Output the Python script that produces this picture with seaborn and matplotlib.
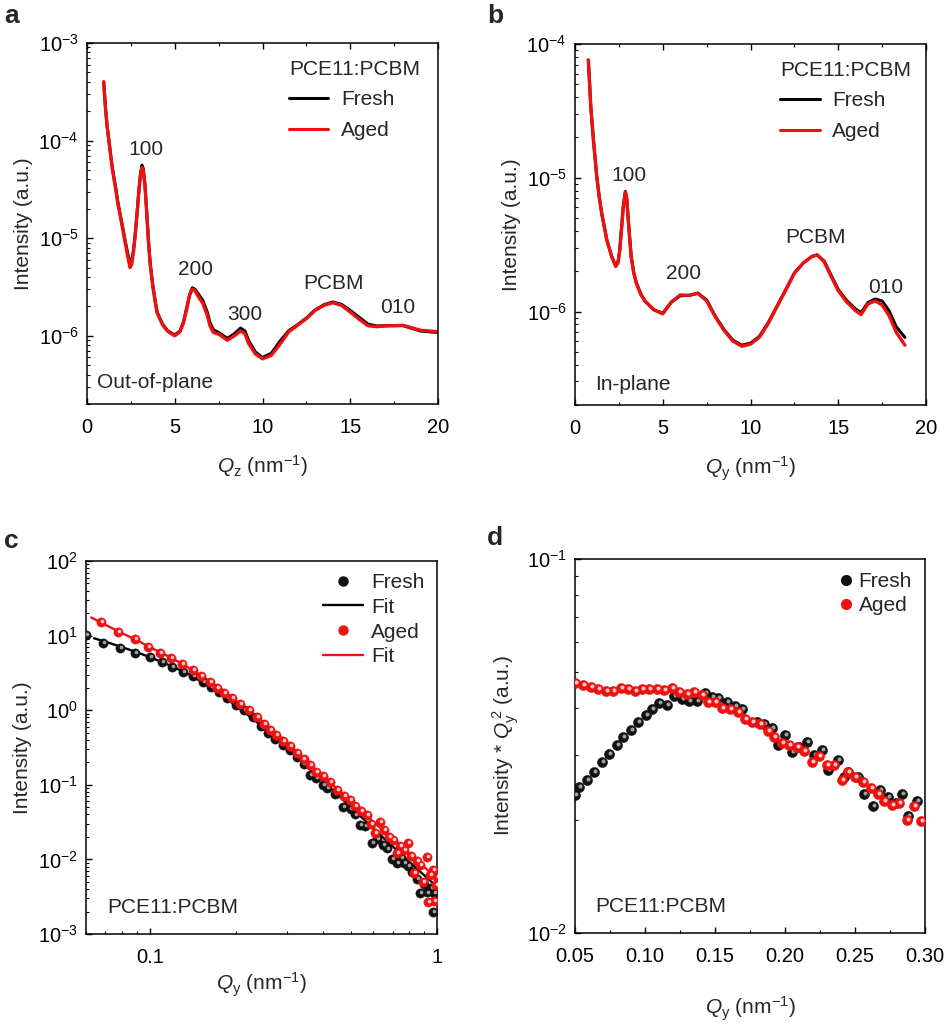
"""
GIWAXS / GISAXS comparison of fresh and aged PCE11:PCBM films
(a) out-of-plane line cut, (b) in-plane line cut,
(c) in-plane GISAXS profile with fits, (d) Kratky-type plot.
"""

import numpy as np
import pandas as pd
import matplotlib
matplotlib.use("Agg")
import matplotlib.pyplot as plt
import matplotlib.ticker as mticker
from matplotlib.lines import Line2D
from matplotlib.transforms import ScaledTranslation
import seaborn as sns

# ─────────────────────────────────────────────
# DATA
# ─────────────────────────────────────────────
# (a) out-of-plane
qz_a = [0.95, 1.05, 1.14, 1.25, 1.33, 1.45, 1.61, 1.75, 1.90, 2.05,
        2.18, 2.32, 2.45, 2.55, 2.65, 2.75, 2.85, 2.95, 3.05, 3.13,
        3.2, 3.3, 3.4, 3.5, 3.6, 3.75, 3.9, 4.0, 4.3, 4.6,
        5.0, 5.3, 5.5, 5.7, 5.85, 6.0, 6.15, 6.3, 6.6, 6.85,
        7.0, 7.2, 7.5, 8.0, 8.4, 8.75, 9.0, 9.2, 9.6, 10.0,
        10.5, 11.0, 11.5, 12.0, 12.5, 13.0, 13.5, 14.0, 14.5, 15.0,
        15.5, 16.0, 16.5, 17.0, 18.0, 19.0, 20.0]
fresh_a = [4.0e-4, 2.2e-4, 1.45e-4, 1.0e-4, 7.6e-5, 5.2e-5, 3.5e-5, 2.4e-5, 1.72e-5, 1.25e-5,
           9.3e-6, 7.0e-6, 5.6e-6, 5.9e-6, 7.6e-6, 1.12e-5, 1.8e-5, 3.0e-5, 4.6e-5, 5.6e-5,
           5.2e-5, 3.6e-5, 1.9e-5, 9.5e-6, 5.6e-6, 3.3e-6, 2.2e-6, 1.74e-6, 1.32e-6, 1.12e-6,
           1.02e-6, 1.12e-6, 1.4e-6, 2.0e-6, 2.65e-6, 3.1e-6, 3.0e-6, 2.75e-6, 2.3e-6, 1.75e-6,
           1.38e-6, 1.15e-6, 1.08e-6, 0.94e-6, 1.05e-6, 1.2e-6, 1.12e-6, 9.0e-7, 6.8e-7, 6.0e-7,
           6.6e-7, 8.8e-7, 1.13e-6, 1.30e-6, 1.52e-6, 1.84e-6, 2.08e-6, 2.22e-6, 2.10e-6, 1.82e-6,
           1.55e-6, 1.32e-6, 1.26e-6, 1.27e-6, 1.27e-6, 1.12e-6, 1.08e-6]
aged_a = [4.0e-4, 2.2e-4, 1.42e-4, 9.8e-5, 7.5e-5, 5.0e-5, 3.4e-5, 2.3e-5, 1.67e-5, 1.2e-5,
          8.9e-6, 6.5e-6, 5.0e-6, 5.4e-6, 7.2e-6, 1.08e-5, 1.75e-5, 2.9e-5, 4.5e-5, 5.3e-5,
          5.0e-5, 3.5e-5, 1.85e-5, 9.2e-6, 5.4e-6, 3.2e-6, 2.15e-6, 1.71e-6, 1.30e-6, 1.11e-6,
          1.0e-6, 1.1e-6, 1.36e-6, 1.95e-6, 2.6e-6, 3.0e-6, 2.9e-6, 2.6e-6, 2.15e-6, 1.62e-6,
          1.28e-6, 1.08e-6, 1.04e-6, 0.90e-6, 1.0e-6, 1.12e-6, 1.05e-6, 8.4e-7, 6.5e-7, 5.8e-7,
          6.3e-7, 8.2e-7, 1.10e-6, 1.28e-6, 1.50e-6, 1.82e-6, 2.05e-6, 2.18e-6, 2.05e-6, 1.75e-6,
          1.48e-6, 1.27e-6, 1.24e-6, 1.26e-6, 1.28e-6, 1.14e-6, 1.10e-6]

# (b) in-plane
qy_b = [0.76, 0.9, 1.05, 1.24, 1.38, 1.52, 1.81, 2.09, 2.32, 2.45,
        2.55, 2.65, 2.75, 2.87, 2.95, 3.05, 3.2, 3.35, 3.5, 3.75,
        4.0, 4.5, 5.0, 5.5, 6.0, 6.5, 7.0, 7.5, 8.0, 8.5,
        9.0, 9.5, 10.0, 10.5, 11.0, 11.5, 12.0, 12.5, 13.0, 13.5,
        13.8, 14.2, 14.6, 15.0, 15.5, 16.0, 16.3, 16.7, 17.1, 17.5,
        17.9, 18.3, 18.8]
fresh_b = [7.6e-5, 3.4e-5, 1.92e-5, 1.02e-5, 7.2e-6, 5.45e-6, 3.44e-6, 2.58e-6, 2.2e-6, 2.35e-6,
           2.9e-6, 4.2e-6, 6.1e-6, 7.9e-6, 7.0e-6, 4.6e-6, 2.6e-6, 1.95e-6, 1.63e-6, 1.35e-6,
           1.19e-6, 1.03e-6, 9.7e-7, 1.18e-6, 1.31e-6, 1.32e-6, 1.37e-6, 1.22e-6, 9.2e-7, 7.3e-7,
           6.1e-7, 5.6e-7, 5.8e-7, 6.5e-7, 8.2e-7, 1.09e-6, 1.45e-6, 1.94e-6, 2.30e-6, 2.58e-6,
           2.65e-6, 2.38e-6, 1.86e-6, 1.46e-6, 1.20e-6, 1.04e-6, 9.8e-7, 1.17e-6, 1.24e-6, 1.20e-6,
           1.01e-6, 7.7e-7, 6.4e-7]
aged_b = [7.6e-5, 3.4e-5, 1.92e-5, 1.02e-5, 7.2e-6, 5.45e-6, 3.44e-6, 2.58e-6, 2.17e-6, 2.3e-6,
          2.85e-6, 4.1e-6, 6.0e-6, 7.8e-6, 6.9e-6, 4.5e-6, 2.55e-6, 1.93e-6, 1.62e-6, 1.34e-6,
          1.19e-6, 1.03e-6, 9.6e-7, 1.18e-6, 1.33e-6, 1.32e-6, 1.37e-6, 1.20e-6, 9.1e-7, 7.2e-7,
          6.0e-7, 5.5e-7, 5.7e-7, 6.4e-7, 8.1e-7, 1.08e-6, 1.44e-6, 1.93e-6, 2.30e-6, 2.58e-6,
          2.65e-6, 2.35e-6, 1.82e-6, 1.43e-6, 1.17e-6, 1.01e-6, 9.5e-7, 1.14e-6, 1.20e-6, 1.12e-6,
          9.3e-7, 7.0e-7, 5.6e-7]

# (c) GISAXS profiles
q_fresh_c = [0.060, 0.069, 0.079, 0.089, 0.100, 0.110, 0.120, 0.131, 0.142, 0.153,
             0.164, 0.174, 0.186, 0.199, 0.213, 0.228, 0.243, 0.258, 0.273, 0.290,
             0.307, 0.325, 0.343, 0.361, 0.380, 0.400, 0.413, 0.440, 0.472, 0.500,
             0.520, 0.539, 0.560, 0.592, 0.620, 0.650, 0.670, 0.695, 0.724, 0.750,
             0.770, 0.795, 0.820, 0.850, 0.873, 0.900, 0.920, 0.950, 0.965, 0.980, 1.000]
fresh_c = [10.2, 8.05, 6.8, 5.8, 5.1, 4.47, 3.85, 3.3, 2.88, 2.42,
           2.07, 1.73, 1.44, 1.17, 1.0, 0.82, 0.62, 0.49, 0.41, 0.34,
           0.29, 0.235, 0.19, 0.135, 0.125, 0.10, 0.0897, 0.075, 0.0508, 0.047,
           0.040, 0.0289, 0.028, 0.0164, 0.019, 0.0155, 0.014, 0.0100, 0.0090, 0.0105,
           0.0090, 0.0082, 0.0068, 0.0055, 0.0035, 0.0047, 0.0036, 0.0042, 0.0020, 0.0035, 0.0040]
q_aged_c = [0.0675, 0.0778, 0.0889, 0.099, 0.109, 0.119, 0.130, 0.141, 0.151, 0.162,
            0.172, 0.182, 0.194, 0.207, 0.222, 0.237, 0.250, 0.262, 0.275, 0.290,
            0.307, 0.325, 0.343, 0.361, 0.380, 0.400, 0.424, 0.450, 0.475, 0.497,
            0.520, 0.545, 0.569, 0.590, 0.610, 0.632, 0.655, 0.680, 0.705, 0.724,
            0.745, 0.770, 0.795, 0.810, 0.830, 0.850, 0.870, 0.895, 0.920, 0.930,
            0.945, 0.970, 0.980, 0.990, 1.000]
aged_c = [15.4, 11.3, 8.9, 7.1, 5.9, 4.96, 4.17, 3.46, 2.87, 2.41,
          2.0, 1.72, 1.44, 1.21, 1.0, 0.82, 0.66, 0.55, 0.46, 0.39,
          0.33, 0.27, 0.22, 0.184, 0.15, 0.13, 0.11, 0.085, 0.07, 0.0625,
          0.052, 0.045, 0.0394, 0.030, 0.0224, 0.032, 0.025, 0.020, 0.018, 0.0121,
          0.015, 0.0135, 0.0164, 0.011, 0.0065, 0.0095, 0.0085, 0.0050, 0.0109, 0.0027,
          0.0062, 0.0072, 0.0028, 0.0045, 0.0058]
q_fit_fresh_c = [0.064, 0.07, 0.08, 0.09, 0.10, 0.12, 0.14, 0.16, 0.18, 0.20, 0.23,
                 0.26, 0.30, 0.35, 0.40, 0.45, 0.50, 0.60, 0.70, 0.80, 0.90, 1.0]
fit_fresh_c = [9.2, 8.3, 7.0, 6.0, 5.15, 3.85, 2.9, 2.1, 1.55, 1.14, 0.75,
               0.51, 0.31, 0.18, 0.112, 0.074, 0.051, 0.026, 0.015, 0.0093, 0.0062, 0.0043]
q_fit_aged_c = [0.0626, 0.07, 0.08, 0.09, 0.10, 0.12, 0.14, 0.16, 0.18, 0.20, 0.23,
                0.26, 0.30, 0.35, 0.40, 0.45, 0.50, 0.60, 0.70, 0.80, 0.90, 1.0]
fit_aged_c = [17.5, 14.0, 10.8, 8.7, 7.0, 4.95, 3.5, 2.5, 1.78, 1.30, 0.88,
              0.60, 0.37, 0.21, 0.13, 0.088, 0.062, 0.032, 0.019, 0.012, 0.008, 0.0055]

# (d) Intensity * q^2
q_fresh_d = [0.0500, 0.0531, 0.0584, 0.0638, 0.0691, 0.0745, 0.0798, 0.0845, 0.0898, 0.0952,
             0.1005, 0.1052, 0.1102, 0.1155, 0.1209, 0.1262, 0.1314, 0.1369, 0.1429, 0.1476,
             0.1524, 0.1583, 0.1640, 0.1690, 0.1798, 0.1850, 0.1905, 0.1952, 0.2000, 0.2048,
             0.2100, 0.2155, 0.2210, 0.2262, 0.2310, 0.2376, 0.2420, 0.2452, 0.2524, 0.2567,
             0.2631, 0.2679, 0.2738, 0.2790, 0.2838, 0.2881, 0.2940]
fresh_d = [0.0234, 0.0245, 0.0256, 0.0270, 0.0287, 0.0301, 0.0319, 0.0335, 0.0349, 0.0366,
           0.0383, 0.0397, 0.0411, 0.0407, 0.0429, 0.0422, 0.0418, 0.0418, 0.0437, 0.0428,
           0.0425, 0.0414, 0.0405, 0.0397, 0.0367, 0.0362, 0.0353, 0.0318, 0.0338, 0.0305,
           0.0315, 0.0325, 0.0300, 0.0309, 0.0273, 0.0291, 0.0262, 0.0270, 0.0262, 0.0236,
           0.0219, 0.0241, 0.0231, 0.0222, 0.0235, 0.0205, 0.0225]
q_aged_d = [0.0500, 0.0560, 0.0614, 0.0667, 0.0721, 0.0774, 0.0826, 0.0876, 0.0929, 0.0981,
            0.1029, 0.1084, 0.1138, 0.1195, 0.1243, 0.1298, 0.1352, 0.1405, 0.1452, 0.1500,
            0.1552, 0.1607, 0.1662, 0.1714, 0.1762, 0.1821, 0.1876, 0.1924, 0.1976, 0.2029,
            0.2083, 0.2138, 0.2190, 0.2243, 0.2298, 0.2352, 0.2405, 0.2452, 0.2500, 0.2560,
            0.2612, 0.2662, 0.2710, 0.2767, 0.2817, 0.2874, 0.2921, 0.2971]
aged_d = [0.0467, 0.0460, 0.0456, 0.0449, 0.0445, 0.0445, 0.0453, 0.0449, 0.0445, 0.0449,
          0.0449, 0.0449, 0.0446, 0.0451, 0.0442, 0.0435, 0.0442, 0.0432, 0.0415, 0.0414,
          0.0399, 0.0397, 0.0391, 0.0373, 0.0366, 0.0362, 0.0347, 0.0335, 0.0323, 0.0318,
          0.0314, 0.0307, 0.0287, 0.0297, 0.0282, 0.0281, 0.0256, 0.0270, 0.0262, 0.0254,
          0.0244, 0.0235, 0.0225, 0.0220, 0.0222, 0.0200, 0.0219, 0.0199]

# ─────────────────────────────────────────────
# STYLE
# ─────────────────────────────────────────────
sns.set_theme(style="ticks")
plt.rcParams["font.family"] = ["Liberation Sans", "DejaVu Sans"]
plt.rcParams["mathtext.fontset"] = "custom"
plt.rcParams["mathtext.rm"] = "Liberation Sans"
plt.rcParams["mathtext.it"] = "Liberation Sans:italic"
plt.rcParams["mathtext.bf"] = "Liberation Sans:bold"
plt.rcParams["axes.edgecolor"] = "black"
plt.rcParams["axes.linewidth"] = 1.1

BLACK = "#000000"
RED = "#ee1111"
FS = 15
TFS = 14.5

fig = plt.figure(figsize=(9.46, 10.23), dpi=100)
W, H = 946, 1023


def add_ax(left, top, right, bottom):
    return fig.add_axes([left / W, 1 - bottom / H, (right - left) / W, (bottom - top) / H])


ax_a = add_ax(87, 43, 438, 404)
ax_b = add_ax(575, 44, 926, 405)
ax_c = add_ax(86, 561, 437, 934)
ax_d = add_ax(575, 559, 925, 933)


def style(ax, top=False):
    ax.tick_params(which="both", direction="in", colors="black", labelsize=TFS,
                   top=top, right=False, bottom=True, left=True)
    ax.tick_params(which="major", length=4.5, width=1.0)
    ax.tick_params(which="minor", length=2.5, width=0.8)
    ax.tick_params(axis="x", which="both", pad=10)
    ax.tick_params(axis="y", which="both", pad=6)
    for s in ax.spines.values():
        s.set_visible(True)
        s.set_color("black")
        s.set_linewidth(1.1)


def log_y(ax, lo, hi):
    ax.set_yscale("log")
    ax.set_ylim(lo, hi)
    ax.yaxis.set_major_locator(mticker.LogLocator(base=10))
    ax.yaxis.set_minor_locator(mticker.LogLocator(base=10, subs=np.arange(2, 10)))
    ax.yaxis.set_minor_formatter(mticker.NullFormatter())


def balls(ax, x, y, base, hi, s, z):
    sns.scatterplot(x=x, y=y, ax=ax, color=base, s=s, linewidth=0.4,
                    edgecolor=base, legend=False, zorder=z)
    sns.scatterplot(x=x, y=y, ax=ax, color=hi, s=s * 0.16, linewidth=0,
                    legend=False, zorder=z + 0.1)
    ax.collections[-1].set_offset_transform(
        ax.transData + ScaledTranslation(0.7 / 72, 0.7 / 72, fig.dpi_scale_trans))


# ─────────────────────────────────────────────
# (a) OUT-OF-PLANE
# ─────────────────────────────────────────────
ax = ax_a
sns.lineplot(x=qz_a, y=fresh_a, ax=ax, color=BLACK, lw=2.2, estimator=None, sort=False)
sns.lineplot(x=qz_a, y=aged_a, ax=ax, color=RED, lw=2.4, estimator=None, sort=False)
log_y(ax, 2e-7, 1e-3)
ax.set_xlim(0, 20)
ax.xaxis.set_major_locator(mticker.MultipleLocator(5))
ax.xaxis.set_minor_locator(mticker.MultipleLocator(2.5))
style(ax, top=True)
ax.set_xlabel(r"$Q_{\mathrm{z}}$ (nm$^{-1}$)", fontsize=FS, labelpad=12)
ax.set_ylabel("Intensity (a.u.)", fontsize=FS, labelpad=4)
for txt, x, y in [("100", 3.36, 8.1e-5), ("200", 6.21, 4.8e-6), ("300", 9.02, 1.64e-6),
                  ("PCBM", 14.02, 3.47e-6), ("010", 17.72, 1.97e-6)]:
    ax.text(x, y, txt, fontsize=FS, ha="center", va="center")
ax.text(0.57, 3.3e-7, "Out-of-plane", fontsize=FS, ha="left", va="center")
handles = [Line2D([], [], color=BLACK, lw=2.2), Line2D([], [], color=RED, lw=2.2)]
ax.legend(handles, ["Fresh", "Aged"], title="PCE11:PCBM", title_fontsize=FS,
          fontsize=FS, frameon=False, loc="upper left", bbox_to_anchor=(0.575, 0.953),
          borderpad=0, borderaxespad=0, handlelength=1.9, handletextpad=0.6,
          labelspacing=0.55, alignment="left")

# ─────────────────────────────────────────────
# (b) IN-PLANE
# ─────────────────────────────────────────────
ax = ax_b
sns.lineplot(x=qy_b, y=fresh_b, ax=ax, color=BLACK, lw=2.2, estimator=None, sort=False)
sns.lineplot(x=qy_b, y=aged_b, ax=ax, color=RED, lw=2.4, estimator=None, sort=False)
log_y(ax, 2e-7, 1e-4)
ax.set_xlim(0, 20)
ax.xaxis.set_major_locator(mticker.MultipleLocator(5))
ax.xaxis.set_minor_locator(mticker.MultipleLocator(2.5))
style(ax, top=True)
ax.set_xlabel(r"$Q_{\mathrm{y}}$ (nm$^{-1}$)", fontsize=FS, labelpad=12)
ax.set_ylabel("Intensity (a.u.)", fontsize=FS, labelpad=4)
for txt, x, y in [("100", 3.08, 1.04e-5), ("200", 6.18, 1.91e-6),
                  ("PCBM", 13.73, 3.6e-6), ("010", 17.72, 1.52e-6)]:
    ax.text(x, y, txt, fontsize=FS, ha="center", va="center")
ax.text(1.14, 2.85e-7, "In-plane", fontsize=FS, ha="left", va="center")
ax.legend(handles, ["Fresh", "Aged"], title="PCE11:PCBM", title_fontsize=FS,
          fontsize=FS, frameon=False, loc="upper left", bbox_to_anchor=(0.584, 0.953),
          borderpad=0, borderaxespad=0, handlelength=1.9, handletextpad=0.6,
          labelspacing=0.55, alignment="left")

# ─────────────────────────────────────────────
# (c) GISAXS PROFILES
# ─────────────────────────────────────────────
ax = ax_c
sns.lineplot(x=q_fit_fresh_c, y=fit_fresh_c, ax=ax, color=BLACK, lw=1.7, estimator=None, zorder=2)
sns.lineplot(x=q_fit_aged_c, y=fit_aged_c, ax=ax, color=RED, lw=1.7, estimator=None, zorder=2)
balls(ax, q_fresh_c, fresh_c, "#111111", "#a0a0a0", 44, 3)
balls(ax, q_aged_c, aged_c, RED, "#ffc8c8", 44, 4)
ax.set_xscale("log")
ax.set_xlim(0.06, 1.0)
ax.xaxis.set_major_locator(mticker.FixedLocator([0.1, 1.0]))
ax.xaxis.set_major_formatter(mticker.FuncFormatter(lambda v, p: f"{v:g}"))
ax.xaxis.set_minor_locator(mticker.LogLocator(base=10, subs=np.arange(2, 10)))
ax.xaxis.set_minor_formatter(mticker.NullFormatter())
log_y(ax, 1e-3, 1e2)
style(ax)
ax.set_xlabel(r"$Q_{\mathrm{y}}$ (nm$^{-1}$)", fontsize=FS, labelpad=3)
ax.set_ylabel("Intensity (a.u.)", fontsize=FS, labelpad=4)
ax.text(0.06, 0.072, "PCE11:PCBM", transform=ax.transAxes, fontsize=FS, ha="left", va="center")
h_c = [Line2D([], [], ls="", marker="o", ms=6.5, color="#111111"),
       Line2D([], [], color=BLACK, lw=1.7),
       Line2D([], [], ls="", marker="o", ms=6.5, color=RED),
       Line2D([], [], color=RED, lw=1.7)]
ax.legend(h_c, ["Fresh", "Fit", "Aged", "Fit"], fontsize=FS, frameon=False,
          loc="upper left", bbox_to_anchor=(0.675, 0.968), borderpad=0, borderaxespad=0,
          handlelength=1.9, handletextpad=0.4, labelspacing=0.28)

# ─────────────────────────────────────────────
# (d) I * q^2
# ─────────────────────────────────────────────
ax = ax_d
balls(ax, q_fresh_d, fresh_d, "#111111", "#a0a0a0", 52, 3)
balls(ax, q_aged_d, aged_d, RED, "#ffc8c8", 52, 4)
ax.set_xlim(0.05, 0.30)
ax.xaxis.set_major_locator(mticker.MultipleLocator(0.05))
ax.xaxis.set_major_formatter(mticker.FormatStrFormatter("%.2f"))
ax.xaxis.set_minor_locator(mticker.MultipleLocator(0.025))
log_y(ax, 1e-2, 1e-1)
style(ax)
ax.set_xlabel(r"$Q_{\mathrm{y}}$ (nm$^{-1}$)", fontsize=FS, labelpad=21)
ax.set_ylabel(r"Intensity * $Q_{\mathrm{y}}^{\,2}$ (a.u.)", fontsize=FS, labelpad=4)
ax.text(0.057, 0.07, "PCE11:PCBM", transform=ax.transAxes, fontsize=FS, ha="left", va="center")
h_d = [Line2D([], [], ls="", marker="o", ms=7, color="#111111"),
       Line2D([], [], ls="", marker="o", ms=7, color=RED)]
ax.legend(h_d, ["Fresh", "Aged"], fontsize=FS, frameon=False,
          loc="upper left", bbox_to_anchor=(0.757, 0.965), borderpad=0, borderaxespad=0,
          handlelength=0.6, handletextpad=0.3, labelspacing=0.25)

# panel letters
for lab, x, y in [("a", 4, 16), ("b", 487, 16), ("c", 4, 541), ("d", 487, 538)]:
    fig.text(x / W, 1 - y / H, lab, fontsize=19, fontweight="bold", ha="left", va="center")

fig.savefig("out.png", dpi=100)
plt.close(fig)
